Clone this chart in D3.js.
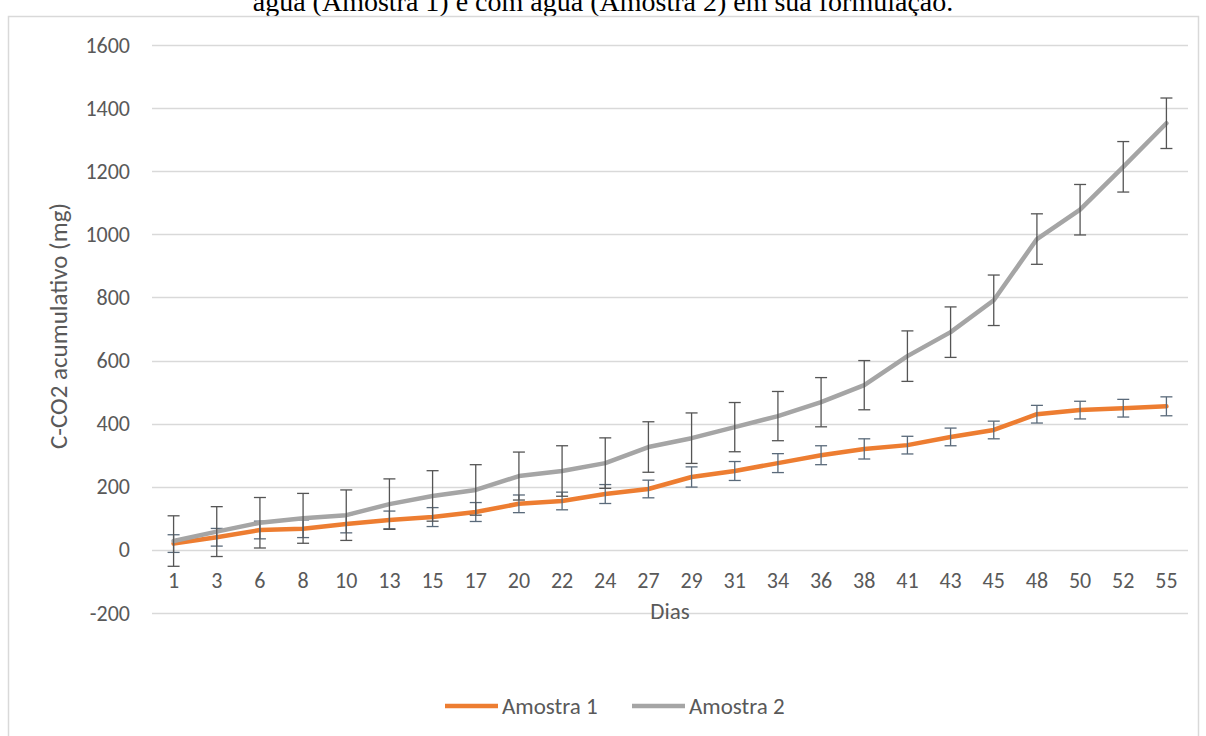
<!DOCTYPE html>
<html>
<head>
<meta charset="utf-8">
<script src="https://cdn.jsdelivr.net/npm/d3@7"></script>
<style>
  body { margin: 0; background: #fff; }
  svg { display: block; }
</style>
</head>
<body>
<svg id="chart" width="1206" height="736"></svg>
<script>
// categorias (dias)
var dias = [1, 3, 6, 8, 10, 13, 15, 17, 20, 22, 24, 27, 29, 31, 34, 36, 38, 41, 43, 45, 48, 50, 52, 55];

// C-CO2 acumulativo (mg)
var amostra1 = [20, 40, 63, 67, 82, 95, 104, 120, 146, 155, 177, 193, 231, 250, 275, 300, 320, 332, 358, 380, 430, 443, 449, 455];
var amostra2 = [28, 58, 86, 100, 110, 145, 171, 190, 234, 250, 275, 326, 354, 389, 424, 468, 522, 614, 690, 791, 985, 1078, 1214, 1352];

// barras de erro (+/-)
var erro1 = [28, 28, 28, 28, 28, 28, 30, 30, 28, 28, 30, 28, 32, 30, 30, 30, 32, 28, 28, 28, 28, 28, 28, 30];
var erro2 = [80, 79, 80, 79, 80, 80, 80, 80, 76, 80, 80, 80, 80, 78, 78, 78, 78, 80, 80, 80, 80, 80, 80, 80];

var yTicks = [-200, 0, 200, 400, 600, 800, 1000, 1200, 1400, 1600];

var svg = d3.select("#chart");
var W = 1206, H = 736;

var margin = { top: 45, right: 18, bottom: 123, left: 152 },
    width = W - margin.left - margin.right,
    height = H - margin.top - margin.bottom;

// texto do titulo cortado no topo
svg.append("text")
    .attr("x", 603)
    .attr("y", 11)
    .attr("text-anchor", "middle")
    .style("font-family", "'Liberation Serif', 'Times New Roman', serif")
    .style("font-size", "28px")
    .style("fill", "#000")
    .text("água (Amostra 1) e com água (Amostra 2) em sua formulação.");

// borda do grafico
svg.append("rect")
    .attr("x", 8.5)
    .attr("y", 16.5)
    .attr("width", 1190)
    .attr("height", 740)
    .attr("fill", "#fff")
    .attr("stroke", "#d9d9d9")
    .attr("stroke-width", 1.5);

var x = d3.scaleBand().domain(dias).range([0, width]);
var y = d3.scaleLinear().domain([-200, 1600]).range([568, 0]);

var g = svg.append("g")
    .attr("transform", "translate(" + margin.left + "," + margin.top + ")");

var font = "Carlito, 'Open Sans', 'Liberation Sans', sans-serif";

// grade
g.selectAll(".grid")
    .data(yTicks)
    .enter()
    .append("line")
    .attr("x1", 0)
    .attr("x2", width)
    .attr("y1", function (d) { return Math.round(y(d)) + 0.5; })
    .attr("y2", function (d) { return Math.round(y(d)) + 0.5; })
    .attr("stroke", "#d9d9d9")
    .attr("stroke-width", 1.5);

// eixo y
var yAxis = d3.axisLeft(y).tickValues(yTicks).tickSize(0).tickPadding(22)
    .tickFormat(function (d) { return String(d); });
var gY = g.append("g").call(yAxis);
gY.select(".domain").remove();
gY.selectAll("text")
    .style("font-family", font)
    .style("font-size", "22px")
    .style("fill", "#595959");

// eixo x (categorias, em y = 0)
var xAxis = d3.axisBottom(x).tickSize(0).tickPadding(23);
var gX = g.append("g")
    .attr("transform", "translate(0," + y(0) + ")")
    .call(xAxis);
gX.select(".domain").remove();
gX.selectAll("text")
    .style("font-family", font)
    .style("font-size", "22px")
    .style("fill", "#595959");

function cx(d, i) { return x(dias[i]) + x.bandwidth() / 2; }

var line = d3.line()
    .x(function (d, i) { return cx(d, i); })
    .y(function (d) { return y(d); });

function drawSeries(values, errs, color, errColor) {
    g.append("path")
        .datum(values)
        .attr("d", line)
        .attr("fill", "none")
        .attr("stroke", color)
        .attr("stroke-width", 4.5)
        .attr("stroke-linejoin", "round")
        .attr("stroke-linecap", "round");

    var eb = g.append("g");
    values.forEach(function (v, i) {
        var xc = cx(v, i);
        var top = y(v + errs[i]), bot = y(v - errs[i]);
        eb.append("line")
            .attr("x1", xc).attr("x2", xc)
            .attr("y1", top).attr("y2", bot)
            .attr("stroke", errColor).attr("stroke-width", 1.3);
        [top, bot].forEach(function (yy) {
            eb.append("line")
                .attr("x1", xc - 6).attr("x2", xc + 6)
                .attr("y1", yy).attr("y2", yy)
                .attr("stroke", errColor).attr("stroke-width", 1.3);
        });
    });
}

drawSeries(amostra1, erro1, "#ED7D31", "#5a6a7a");
drawSeries(amostra2, erro2, "#A5A5A5", "#555555");

// titulo do eixo y
svg.append("text")
    .attr("transform", "translate(67,326) rotate(-90)")
    .attr("text-anchor", "middle")
    .style("font-family", font)
    .style("font-size", "25px")
    .style("fill", "#595959")
    .text("C-CO2 acumulativo (mg)");

// titulo do eixo x
svg.append("text")
    .attr("x", margin.left + width / 2)
    .attr("y", 619)
    .attr("text-anchor", "middle")
    .style("font-family", font)
    .style("font-size", "23px")
    .style("fill", "#595959")
    .text("Dias");

// legenda
var legend = [
    { name: "Amostra 1", color: "#ED7D31", x: 445 },
    { name: "Amostra 2", color: "#A5A5A5", x: 632 }
];
var lg = svg.append("g");
legend.forEach(function (l) {
    lg.append("line")
        .attr("x1", l.x).attr("x2", l.x + 53)
        .attr("y1", 706).attr("y2", 706)
        .attr("stroke", l.color)
        .attr("stroke-width", 4.5);
    lg.append("text")
        .attr("x", l.x + 57)
        .attr("y", 714)
        .style("font-family", font)
        .style("font-size", "23px")
        .style("fill", "#595959")
        .text(l.name);
});
</script>
</body>
</html>
